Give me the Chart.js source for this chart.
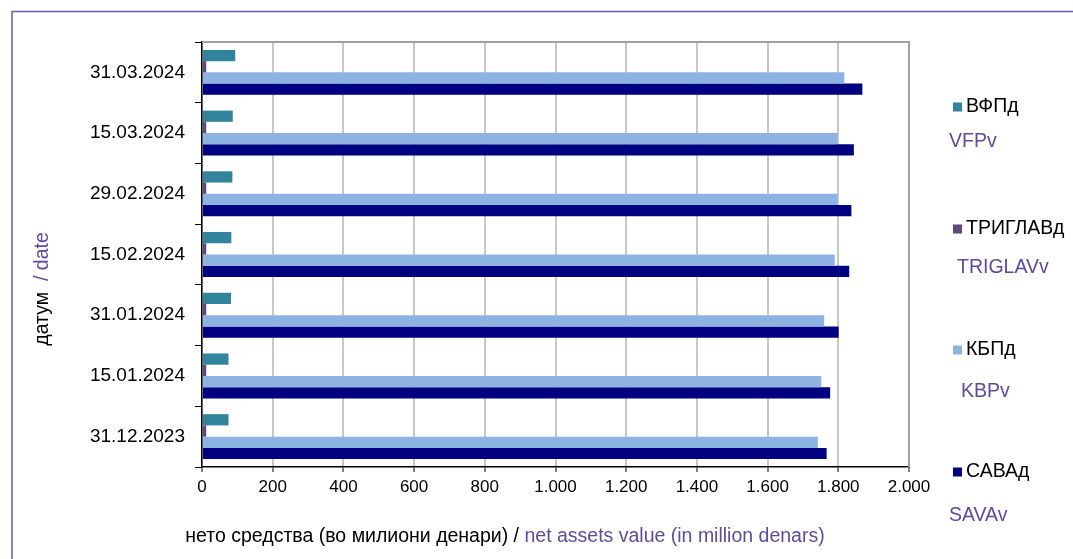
<!DOCTYPE html>
<html><head><meta charset="utf-8">
<script src="https://cdn.jsdelivr.net/npm/chart.js@4"></script>
<style>html,body{margin:0;padding:0;background:#fff;}#wrap{position:relative;width:1073px;height:559px;}</style>
</head><body><div id="wrap"><canvas id="c" width="1073" height="559"></canvas></div>
<script>
const categories = ['31.03.2024','15.03.2024','29.02.2024','15.02.2024','31.01.2024','15.01.2024','31.12.2023'];
const seriesNamesMk = ['ВФПд','ТРИГЛАВд','КБПд','САВАд'];
const seriesNamesEn = ['VFPv','TRIGLAVv','KBPv','SAVAv'];
const seriesColors = ['#31849b','#5f497a','#8db3e2','#000080'];
const vfp = [94,87,86,83,82,75,75];
const triglav = [12,12,12,12,12,12,12];
const kbp = [1817,1798,1798,1790,1760,1752,1742];
const sava = [1868,1844,1837,1831,1801,1777,1767];
const xMin = 0, xMax = 2000, xStep = 200;
const yTitleMk = 'датум', yTitleEn = '/ date';
const xTitleMk = 'нето средства (во милиони денари) / ', xTitleEn = 'net assets value (in million denars)';

const PURPLE = '#5f4b9b';
const FONT = '"Liberation Sans", Arial, sans-serif';

const seriesValues = [vfp, triglav, kbp, sava];
const datasets = seriesValues.map((d,i)=>({
  label: seriesNamesMk[i], data: d, backgroundColor: seriesColors[i],
  borderWidth: 0, categoryPercentage: 0.74, barPercentage: 1.0
}));

function fmt(v){ return String(v).replace(/\B(?=(\d{3})+(?!\d))/g,'.'); }

const deco = {
  id:'deco',
  afterDraw(chart){
    const ctx = chart.ctx, a = chart.chartArea;
    ctx.save();
    // plot frame top & right
    ctx.strokeStyle = '#a0a0a0'; ctx.lineWidth = 2;
    ctx.beginPath(); ctx.moveTo(a.left, a.top); ctx.lineTo(a.right, a.top); ctx.lineTo(a.right, a.bottom); ctx.stroke();
    // outer frame
    ctx.strokeStyle = '#6a58aa'; ctx.lineWidth = 1.5;
    ctx.beginPath(); ctx.moveTo(12, 560); ctx.lineTo(12, 11.5); ctx.lineTo(1075, 11.5); ctx.stroke();
    // legend
    const legY = [107, 229, 350, 472];
    const enPos = [[949,142],[957,268],[961,392],[949,516]];
    ctx.textBaseline = 'middle'; ctx.textAlign = 'left';
    for (let i=0;i<4;i++){
      ctx.fillStyle = seriesColors[i];
      ctx.fillRect(953, legY[i]-4.5, 9, 9);
      ctx.fillStyle = '#000'; ctx.font = '19.5px ' + FONT;
      ctx.fillText(seriesNamesMk[i], 966, legY[i]);
      ctx.fillStyle = PURPLE;
      ctx.fillText(seriesNamesEn[i], enPos[i][0], enPos[i][1]);
    }
    // x title
    ctx.font = '19.5px ' + FONT;
    const w1 = ctx.measureText(xTitleMk).width, w2 = ctx.measureText(xTitleEn).width;
    let x0 = 505 - (w1+w2)/2;
    ctx.fillStyle = '#000'; ctx.fillText(xTitleMk, x0, 537);
    ctx.fillStyle = PURPLE; ctx.fillText(xTitleEn, x0 + w1, 537);
    // y title
    ctx.translate(43, 289); ctx.rotate(-Math.PI/2);
    ctx.font = '19.5px ' + FONT;
    const t1 = yTitleMk + '  ';
    const v1 = ctx.measureText(t1).width, v2 = ctx.measureText(yTitleEn).width;
    const s0 = -(v1+v2)/2;
    ctx.fillStyle = '#000'; ctx.fillText(t1, s0, 0);
    ctx.fillStyle = PURPLE; ctx.fillText(yTitleEn, s0+v1, 0);
    ctx.restore();
  }
};

new Chart(document.getElementById('c'), {
  type:'bar',
  data:{ labels: categories, datasets },
  options:{
    indexAxis:'y', responsive:false, animation:false, devicePixelRatio:1,
    layout:{ padding:{ left:0, top:42, right:164, bottom:0 } },
    plugins:{ legend:{display:false}, tooltip:{enabled:false} },
    scales:{
      x:{ type:'linear', min:xMin, max:xMax,
        ticks:{ stepSize:xStep, color:'#000', font:{family:FONT, size:17}, padding:5, callback:(v)=>fmt(v) },
        grid:{ color:'#c8c8c8', lineWidth:2, tickColor:'#000', tickLength:5, tickWidth:1 },
        border:{ color:'#000', width:1.5 },
        afterFit(s){ s.height = 92; }
      },
      y:{ offset:true,
        ticks:{ color:'#000', font:{family:FONT, size:19}, padding:10 },
        grid:{ drawOnChartArea:false, offset:true, tickColor:'#000', tickLength:7, tickWidth:1 },
        border:{ color:'#000', width:1.5 },
        afterFit(s){ s.width = 202; }
      }
    }
  },
  plugins:[deco]
});
</script></body></html>
